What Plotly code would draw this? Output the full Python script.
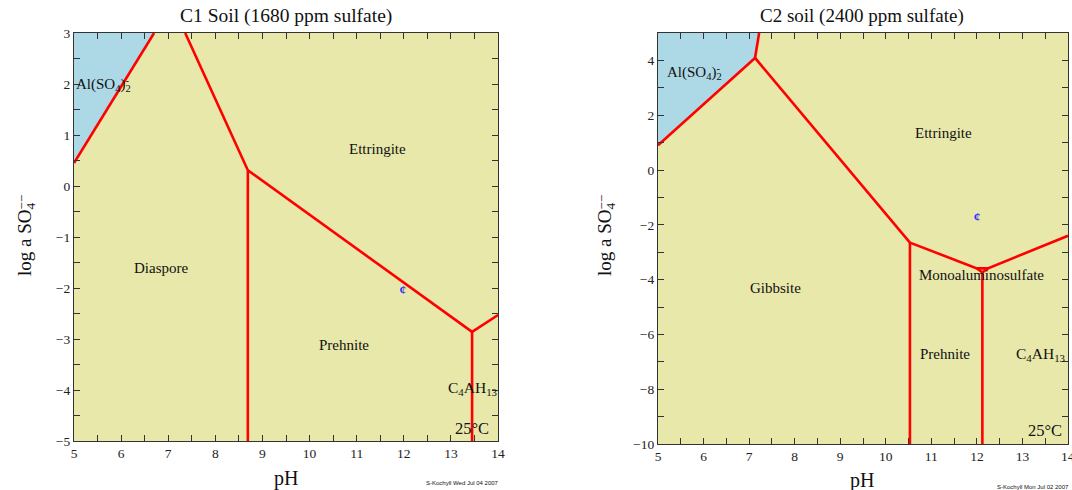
import plotly.graph_objects as go

# ---- C1 soil (1680 ppm sulfate) phase boundaries: (pH, log a SO4) ----
c1_al_edge_ph = [5.0, 6.70]
c1_al_edge_log = [0.45, 3.0]
c1_upper_ph = [7.36, 8.69]
c1_upper_log = [3.0, 0.31]
c1_diag_ph = [8.69, 13.45]
c1_diag_log = [0.31, -2.86]
c1_right_ph = [13.45, 14.0]
c1_right_log = [-2.86, -2.53]
c1_vert1_ph = [8.69, 8.69]
c1_vert1_log = [0.31, -5.0]
c1_vert2_ph = [13.45, 13.45]
c1_vert2_log = [-2.86, -5.0]
c1_point = (11.98, -2.06)

# ---- C2 soil (2400 ppm sulfate) phase boundaries ----
c2_al_edge_ph = [5.0, 7.13]
c2_al_edge_log = [0.90, 4.09]
c2_al_top_ph = [7.13, 7.22]
c2_al_top_log = [4.09, 5.0]
c2_diag_ph = [7.13, 10.53]
c2_diag_log = [4.09, -2.65]
c2_mid_ph = [10.53, 12.00, 12.24, 14.0]
c2_mid_log = [-2.65, -3.59, -3.59, -2.40]
c2_notch_ph = [12.00, 12.12, 12.24]
c2_notch_log = [-3.59, -3.74, -3.59]
c2_vert1_ph = [10.53, 10.53]
c2_vert1_log = [-2.65, -10.0]
c2_vert2_ph = [12.12, 12.12]
c2_vert2_log = [-3.74, -10.0]
c2_point = (12.0, -1.76)

RED = "#ff0000"
BLUE_FILL = "#add8e6"
YELLOW_FILL = "#e8e8aa"
SERIF = "Liberation Serif"
CLEAR = "<span style='color:rgba(0,0,0,0)'>{}</span>"

W, H = 1072, 490


def px_x(p):
    return p / W


def px_y(p):
    return 1 - p / H


fig = go.Figure()


def seg(xs, ys, xa, ya):
    fig.add_trace(go.Scatter(x=xs, y=ys, mode="lines", xaxis=xa, yaxis=ya,
                             line=dict(color=RED, width=2.6),
                             hoverinfo="skip", showlegend=False))


def region(xs, ys, color, xa, ya):
    fig.add_trace(go.Scatter(x=xs, y=ys, mode="lines", fill="toself",
                             fillcolor=color, line=dict(width=0),
                             xaxis=xa, yaxis=ya, hoverinfo="skip",
                             showlegend=False))


# Backgrounds of each stability diagram
region([5, 14, 14, 5, 5], [-5, -5, 3, 3, -5], YELLOW_FILL, "x", "y")
region([5, 14, 14, 5, 5], [-10, -10, 5, 5, -10], YELLOW_FILL, "x2", "y2")

# Al(SO4)2- fields
region([c1_al_edge_ph[0], c1_al_edge_ph[1], 5.0],
       [c1_al_edge_log[0], c1_al_edge_log[1], 3.0], BLUE_FILL, "x", "y")
region([c2_al_edge_ph[0], c2_al_edge_ph[1], c2_al_top_ph[1], 5.0],
       [c2_al_edge_log[0], c2_al_edge_log[1], c2_al_top_log[1], 5.0],
       BLUE_FILL, "x2", "y2")

# Boundaries, C1
for xs, ys in [(c1_al_edge_ph, c1_al_edge_log), (c1_upper_ph, c1_upper_log),
               (c1_diag_ph, c1_diag_log), (c1_right_ph, c1_right_log),
               (c1_vert1_ph, c1_vert1_log), (c1_vert2_ph, c1_vert2_log)]:
    seg(xs, ys, "x", "y")

# Boundaries, C2
for xs, ys in [(c2_al_edge_ph, c2_al_edge_log), (c2_al_top_ph, c2_al_top_log),
               (c2_diag_ph, c2_diag_log), (c2_mid_ph, c2_mid_log),
               (c2_notch_ph, c2_notch_log),
               (c2_vert1_ph, c2_vert1_log), (c2_vert2_ph, c2_vert2_log)]:
    seg(xs, ys, "x2", "y2")

# Sample points
fig.add_trace(go.Scatter(x=[c1_point[0]], y=[c1_point[1]], mode="text",
                         text=["<b>¢</b>"], textfont=dict(color="#3333ff", size=13, family=SERIF),
                         xaxis="x", yaxis="y", hoverinfo="skip", showlegend=False))
fig.add_trace(go.Scatter(x=[c2_point[0]], y=[c2_point[1]], mode="text",
                         text=["<b>¢</b>"], textfont=dict(color="#3333ff", size=13, family=SERIF),
                         xaxis="x2", yaxis="y2", hoverinfo="skip", showlegend=False))

axis_common = dict(
    showgrid=False, zeroline=False, showline=True, linecolor="#333333",
    linewidth=1.2, mirror="ticks", ticks="inside", ticklen=6, automargin=False,
    tickcolor="#333333", tickfont=dict(family=SERIF, size=13.5, color="#222222"),
)
minor_x = dict(dtick=0.5, ticks="inside", ticklen=6, tickcolor="#333333")

fig.update_layout(
    width=W, height=H,
    margin=dict(l=0, r=0, t=0, b=0, pad=0, autoexpand=False),
    paper_bgcolor="white", plot_bgcolor=YELLOW_FILL,
    xaxis=dict(domain=[px_x(74), px_x(498)], range=[5, 14], dtick=1,
               minor=minor_x, anchor="y", **axis_common),
    yaxis=dict(domain=[px_y(441), px_y(33)], range=[-5, 3], dtick=1,
               minor=dict(dtick=0.5, ticks="inside", ticklen=6, tickcolor="#333333"),
               anchor="x", **axis_common),
    xaxis2=dict(domain=[px_x(658), px_x(1068)], range=[5, 14], dtick=1,
                minor=minor_x, anchor="y2", **axis_common),
    yaxis2=dict(domain=[px_y(444), px_y(33)], range=[-10, 5], dtick=2,
                minor=dict(dtick=1, ticks="inside", ticklen=6, tickcolor="#333333"),
                anchor="x2", **axis_common),
)

annotations = []


def paper_text(text, x, y, size, xanchor="center", yanchor="middle", angle=0,
               family=SERIF, color="#111111"):
    annotations.append(dict(text=text, x=px_x(x), y=px_y(y), xref="paper",
                            yref="paper", showarrow=False, xanchor=xanchor,
                            yanchor=yanchor, textangle=angle,
                            font=dict(family=family, size=size, color=color)))


def data_text(text, x, y, ax, size=15, xanchor="center"):
    annotations.append(dict(text=text, x=x, y=y, xref=ax[0], yref=ax[1],
                            showarrow=False, xanchor=xanchor,
                            font=dict(family=SERIF, size=size, color="#111111")))


def ion_label(x, y, ax):
    # Al(SO4)2 with the charge sign stacked over the subscript 2
    data_text("Al(SO<sub>4</sub>)<sub>2</sub>", x, y, ax, xanchor="left")
    data_text(CLEAR.format("Al(SO<sub>4</sub>)") + "<sup>-</sup>", x, y, ax, xanchor="left")


# Titles and axis titles
paper_text("C1 Soil (1680 ppm sulfate)", 286, 16, 19.5)
paper_text("C2 soil (2400 ppm sulfate)", 862, 16, 19)
paper_text("pH", 286, 478, 20)
paper_text("pH", 862, 480, 20)
for xpix in (26, 606):
    paper_text("log a SO<sub>4</sub>", xpix, 278, 19, angle=-90, yanchor="bottom")
    paper_text(CLEAR.format("log a SO") + "<sup>−−</sup>", xpix, 278, 19,
               angle=-90, yanchor="bottom")
paper_text("14", 1068, 456, 13.5, color="#222222")
paper_text("S-Kochyll Wed Jul 04 2007", 462, 483, 6, family="Liberation Sans")
paper_text("S-Kochyll Mon Jul 02 2007", 1033, 487, 6, family="Liberation Sans")

# Field labels, C1
ion_label(5.0, 1.98, ("x", "y"))
data_text("Ettringite", 11.45, 0.73, ("x", "y"))
data_text("Diaspore", 6.85, -1.6, ("x", "y"))
data_text("Prehnite", 10.73, -3.12, ("x", "y"))
data_text("C<sub>4</sub>AH<sub>13</sub>", 13.45, -3.97, ("x", "y"), size=15.5)
data_text("25°C", 13.45, -4.75, ("x", "y"), size=16.5)

# Field labels, C2
ion_label(5.15, 3.55, ("x2", "y2"))
data_text("Ettringite", 11.26, 1.35, ("x2", "y2"))
data_text("Gibbsite", 7.57, -4.3, ("x2", "y2"))
data_text("Monoaluminosulfate", 12.11, -3.82, ("x2", "y2"))
data_text("Prehnite", 11.3, -6.7, ("x2", "y2"))
data_text("C<sub>4</sub>AH<sub>13</sub>", 13.4, -6.75, ("x2", "y2"), size=15.5)
data_text("25°C", 13.5, -9.5, ("x2", "y2"), size=16.5)

fig.update_layout(annotations=annotations)

fig.write_html("out.html")
